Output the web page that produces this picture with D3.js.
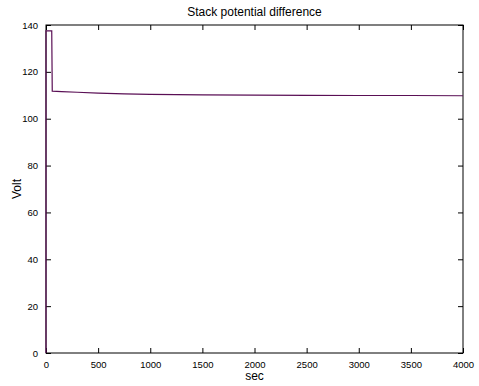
<!DOCTYPE html>
<html>
<head>
<style>
  body { margin: 0; background: #fff; }
  text { font-family: "Liberation Sans", Arial, sans-serif; }
</style>
</head>
<body>
<script src="https://d3js.org/d3.v7.min.js"></script>
<script>
// time in seconds and stack voltage
const TIME = [0, 0, 55, 60, 150, 300, 500, 750, 1000, 1500, 2000, 2500, 3000, 3500, 4000];
const VOLT = [0, 137.5, 137.5, 111.8, 111.6, 111.3, 110.9, 110.6, 110.4, 110.2, 110.1, 110.0, 109.9, 109.9, 109.8];
const X_TICKS = [0, 500, 1000, 1500, 2000, 2500, 3000, 3500, 4000];
const Y_TICKS = [0, 20, 40, 60, 80, 100, 120, 140];

const W = 479, H = 386;
const M = { top: 25, right: 16, bottom: 33, left: 46 };

const svg = d3.select('body').append('svg').attr('width', W).attr('height', H);

const x = d3.scaleLinear().domain([0, 4000]).range([M.left, W - M.right]);
const y = d3.scaleLinear().domain([0, 140]).range([H - M.bottom, M.top]);
const fmt = d3.format('d');

// inward ticks, MATLAB style
const tl = 5;
svg.append('g')
  .attr('transform', `translate(0,${H - M.bottom})`)
  .call(d3.axisBottom(x).tickValues(X_TICKS).tickFormat(fmt).tickSize(-tl).tickPadding(tl + 3))
  .call(g => g.select('.domain').remove());
svg.append('g')
  .attr('transform', `translate(0,${M.top})`)
  .call(d3.axisTop(x).tickValues(X_TICKS).tickSize(-tl).tickFormat(''))
  .call(g => g.select('.domain').remove());
svg.append('g')
  .attr('transform', `translate(${M.left},0)`)
  .call(d3.axisLeft(y).tickValues(Y_TICKS).tickFormat(fmt).tickSize(-tl).tickPadding(tl + 3))
  .call(g => g.select('.domain').remove());
svg.append('g')
  .attr('transform', `translate(${W - M.right},0)`)
  .call(d3.axisRight(y).tickValues(Y_TICKS).tickSize(-tl).tickFormat(''))
  .call(g => g.select('.domain').remove());

svg.selectAll('.tick text').attr('font-size', 9.5).attr('fill', '#000')
  .style('font-family', '"Liberation Sans", Arial, sans-serif');
svg.selectAll('.tick line').attr('stroke', '#000');

svg.append('rect')
  .attr('x', M.left).attr('y', M.top)
  .attr('width', W - M.left - M.right).attr('height', H - M.top - M.bottom)
  .attr('fill', 'none').attr('stroke', '#000').attr('stroke-width', 1);

const line = d3.line().x((d, i) => x(TIME[i])).y(d => y(d));
svg.append('path')
  .datum(VOLT)
  .attr('d', line)
  .attr('fill', 'none')
  .attr('stroke', '#5a0f55')
  .attr('stroke-width', 1.2);

svg.append('text')
  .attr('x', (M.left + W - M.right) / 2).attr('y', 16)
  .attr('text-anchor', 'middle').attr('font-size', 12)
  .text('Stack potential difference');
svg.append('text')
  .attr('x', (M.left + W - M.right) / 2).attr('y', 380)
  .attr('text-anchor', 'middle').attr('font-size', 12)
  .text('sec');
svg.append('text')
  .attr('transform', `translate(21,${(M.top + H - M.bottom) / 2}) rotate(-90)`)
  .attr('text-anchor', 'middle').attr('font-size', 12)
  .text('Volt');
</script>
</body>
</html>
